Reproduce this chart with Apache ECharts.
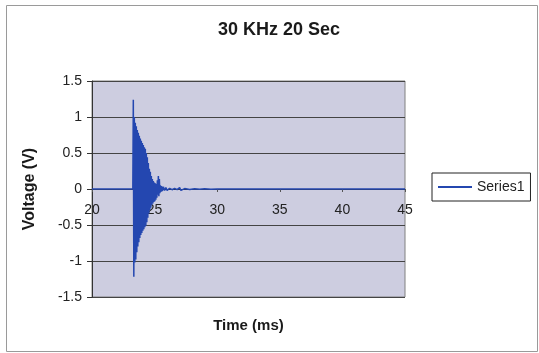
<!DOCTYPE html>
<html>
<head>
<meta charset="utf-8">
<script src="https://cdn.jsdelivr.net/npm/echarts@6/dist/echarts.min.js"></script>
<style>html,body{margin:0;padding:0;background:#fff}#c{width:539px;height:353px}</style>
</head>
<body>
<div id="c"></div>
<script>
const timeMs = [20, 23.26, 23.30, 23.34, 23.38, 23.42, 23.46, 23.50, 23.54, 23.58, 23.62, 23.66, 23.70, 23.74, 23.78, 23.82, 23.86, 23.90, 23.94, 23.98, 24.02, 24.06, 24.10, 24.14, 24.18, 24.22, 24.26, 24.30, 24.34, 24.38, 24.42, 24.46, 24.50, 24.54, 24.58, 24.62, 24.66, 24.70, 24.74, 24.78, 24.82, 24.86, 24.90, 24.94, 24.98, 25.02, 25.06, 25.10, 25.14, 25.18, 25.22, 25.26, 25.30, 25.34, 25.38, 25.42, 25.46, 25.50, 25.56, 25.62, 25.70, 25.80, 25.90, 26.00, 26.2, 26.4, 26.6, 26.8, 27.0, 27.1, 27.4, 27.8, 28.2, 28.6, 29.0, 29.5, 30, 45];
const voltage = [0, 0, 1.24, -1.22, 1.0, -1.02, 0.92, -0.98, 0.87, -0.88, 0.82, -0.80, 0.78, -0.74, 0.74, -0.68, 0.70, -0.64, 0.67, -0.61, 0.64, -0.58, 0.61, -0.56, 0.58, -0.53, 0.56, -0.51, 0.50, -0.46, 0.44, -0.40, 0.36, -0.34, 0.28, -0.29, 0.24, -0.26, 0.18, -0.22, 0.14, -0.20, 0.11, -0.18, 0.09, -0.17, 0.08, -0.15, 0.07, -0.12, 0.12, -0.08, 0.18, -0.10, 0.14, -0.06, 0.05, -0.04, 0.04, -0.03, 0.03, -0.02, 0.02, -0.02, 0.01, -0.01, 0.008, -0.008, 0.02, -0.02, 0.006, -0.006, 0.005, -0.005, 0.004, -0.004, 0, 0];
const seriesName = 'Series1';
const titleText = '30 KHz 20 Sec';
const xName = 'Time (ms)';
const yName = 'Voltage (V)';

const data = timeMs.map((t, i) => [t, voltage[i]]);
const font = '"Liberation Sans", Arial, sans-serif';
const gridTop = 81, gridBottom = 56, H = 353;
const zeroOffset = -((H - gridBottom) - gridTop) / 2; // move x axis up to the y=0 crossing
const chart = echarts.init(document.getElementById('c'), null, {renderer: 'canvas'});
chart.setOption({
  animation: false,
  backgroundColor: '#fff',
  graphic: [{type: 'rect', shape: {x: 6.5, y: 5.5, width: 531, height: 346}, style: {fill: 'none', stroke: '#9a9a9a', lineWidth: 1}, z: -1}],
  title: {text: titleText, left: 274, top: 16, textAlign: 'center',
    textStyle: {fontFamily: font, fontSize: 18, fontWeight: 'bold', color: '#1a1a1a'}},
  legend: {data: [{name: seriesName, icon: 'rect'}], left: 432, top: 173, orient: 'vertical',
    padding: [7, 6, 7, 6], itemWidth: 34, itemHeight: 2, itemGap: 0,
    borderColor: '#222', borderWidth: 1,
    textStyle: {fontFamily: font, fontSize: 14, color: '#222'}},
  grid: {left: 92, right: 134, top: gridTop, bottom: gridBottom, show: true, containLabel: false, outerBoundsMode: 'none',
    backgroundColor: '#cdcde0', borderColor: '#808080', borderWidth: 1},
  xAxis: {type: 'value', min: 20, max: 45, interval: 5, position: 'bottom', offset: zeroOffset,
    name: xName, nameLocation: 'middle', nameGap: 129,
    nameTextStyle: {fontFamily: font, fontSize: 15, fontWeight: 'bold', color: '#1a1a1a'},
    axisLine: {onZero: false, lineStyle: {color: '#333'}},
    axisTick: {show: true, length: 3, lineStyle: {color: '#555'}},
    axisLabel: {margin: 14, fontFamily: font, fontSize: 14, color: '#222'},
    splitLine: {show: false}},
  yAxis: {type: 'value', min: -1.5, max: 1.5, interval: 0.5,
    name: yName, nameLocation: 'middle', nameGap: 54, nameRotate: 90,
    nameTextStyle: {fontFamily: font, fontSize: 16, fontWeight: 'bold', color: '#1a1a1a'},
    axisLine: {show: true, lineStyle: {color: '#333'}},
    axisTick: {show: true, length: 5, lineStyle: {color: '#333'}},
    axisLabel: {margin: 10, fontFamily: font, fontSize: 14, color: '#222'},
    splitLine: {show: true, lineStyle: {color: '#444', width: 1}}},
  series: [{name: seriesName, type: 'line', data: data, symbol: 'none', showSymbol: false,
    lineStyle: {color: '#2447b0', width: 1.5}, itemStyle: {color: '#2447b0'}}]
});
</script>
</body>
</html>
